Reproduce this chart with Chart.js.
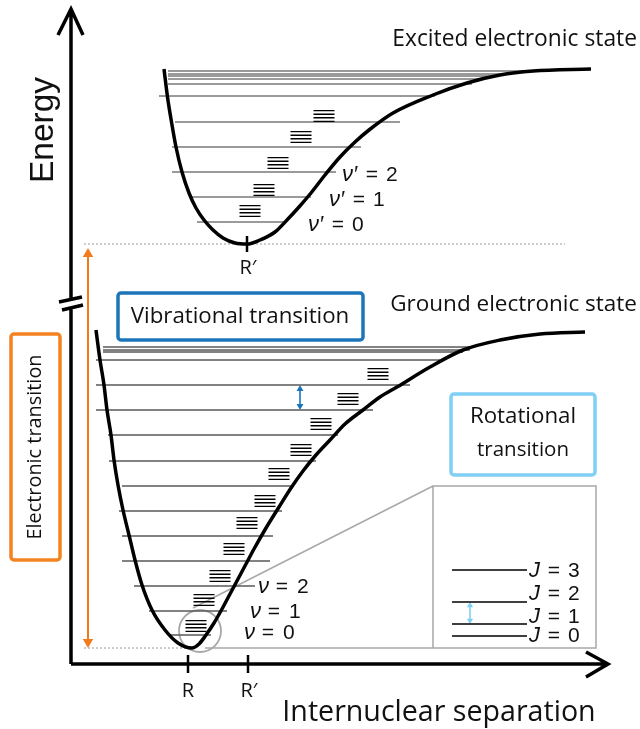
<!DOCTYPE html>
<html>
<head>
<meta charset="utf-8">
<script src="https://cdn.jsdelivr.net/npm/chart.js@4"></script>
<style>
html, body { margin: 0; padding: 0; background: #fff; }
canvas { display: block; }
</style>
</head>
<body>
<canvas id="chart" width="640" height="729"></canvas>
<script>
// x = internuclear separation, y = energy, both measured from where the axes meet

const excitedCurveX = [93, 96.5, 100.5, 105, 111, 118, 125, 133, 142, 152, 164, 176, 189, 204, 216, 228, 240, 254, 269, 284, 298, 322, 362, 396, 429, 462, 520];
const excitedCurveE = [595, 567, 542, 517, 492, 471, 456, 444, 434, 426, 421, 420, 424, 432, 444, 457, 471, 489, 507, 522, 534, 551, 569, 581, 589, 593, 595];

const groundCurveX = [25, 29, 33, 36, 40, 43, 47, 52, 58, 64, 71, 81, 94, 107, 121, 128, 135, 143, 151, 159, 167, 175, 183, 195, 208, 220, 232, 245, 259, 274, 292, 309, 326, 359, 392, 429, 469, 514];
const groundCurveE = [334, 304, 279, 254, 229, 204, 179, 154, 129, 104, 79, 54, 34, 21, 16, 20, 29, 41, 55, 70, 85, 100, 115, 136, 157, 176, 193, 209, 224, 240, 254, 267, 277, 297, 314, 324, 330, 332];

const excitedLevels = [593, 590, 588, 585, 580, 568, 542, 517, 492, 467, 442];
const excitedLevelFrom = [97, 97, 97, 97, 97, 88, 104, 101, 101, 118, 126];
const excitedLevelTo = [456, 441, 426, 412, 401, 364, 329, 290, 265, 240, 216];

const groundLevels = [317, 314, 312, 304, 279, 254, 229, 203, 178, 153, 128, 103, 78, 53, 29];
const groundLevelFrom = [32, 32, 32, 25, 25, 25, 37, 38, 51, 48, 51, 51, 63, 78, 97];
const groundLevelTo = [404, 399, 392, 369, 339, 302, 267, 245, 220, 211, 202, 199, 184, 156, 140];

// rotational sub-levels drawn as little stacks on each vibrational level
const excitedStackX = [253, 230, 207, 193, 179];
const excitedStackE = [548, 527, 501, 474, 453];
const groundStackX = [307, 277, 250, 230, 208, 194, 176, 163, 149, 133, 125];
const groundStackE = [290, 265, 240, 214, 190, 163, 141, 115, 88, 64, 38];

const rotLevels = [94, 62, 40, 28];
const rotLabels = ["3", "2", "1", "0"];
const rotLabelE = [93, 70, 47, 28];
const rotFrom = 381;
const rotTo = 456;

const excitedVibLabels = ["2", "1", "0"];
const excitedVibLabelX = [271, 258, 237];
const excitedVibLabelE = [489, 464, 439];
const groundVibLabels = ["2", "1", "0"];
const groundVibLabelX = [187, 179, 173];
const groundVibLabelE = [77, 52, 31];

const STACK_HALF = 10.5;
const STACK_OFFSETS = [-5.4, -1.8, 1.8, 5.4];

function pairs(xs, es) {
    return xs.map((x, i) => ({ x: x, y: es[i] }));
}

function levelSegments(levels, from, to) {
    const pts = [];
    levels.forEach((e, i) => {
        pts.push({ x: from[i], y: e }, { x: to[i], y: e }, { x: to[i], y: null });
    });
    return pts;
}

function stackSegments(xs, es) {
    const pts = [];
    xs.forEach((x, i) => {
        STACK_OFFSETS.forEach(d => {
            pts.push(
                { x: x - STACK_HALF, y: es[i] + d },
                { x: x + STACK_HALF, y: es[i] + d },
                { x: x, y: null }
            );
        });
    });
    return pts;
}

function lineSet(data, color, width, extra) {
    return Object.assign({
        data: data,
        showLine: true,
        borderColor: color,
        borderWidth: width,
        pointRadius: 0,
        fill: false
    }, extra || {});
}

const gap = { x: 0, y: null };

const datasets = [
    lineSet(pairs(excitedCurveX, excitedCurveE), "#000", 3.5, { cubicInterpolationMode: "monotone" }),
    lineSet(pairs(groundCurveX, groundCurveE), "#000", 3.5, { cubicInterpolationMode: "monotone" }),

    // axes, broken energy axis and open arrow heads
    lineSet([
        { x: 0, y: 0 }, { x: 0, y: 356 }, gap,
        { x: 0, y: 365 }, { x: 0, y: 655 }, gap,
        { x: -13, y: 629 }, { x: 0, y: 655 }, { x: 12, y: 629 }, gap,
        { x: 0, y: 0 }, { x: 537, y: 0 }, gap,
        { x: 515, y: 12 }, { x: 537, y: 0 }, { x: 515, y: -13 }, gap,
        { x: -12, y: 362 }, { x: 11, y: 367 }, gap,
        { x: -9, y: 354 }, { x: 12, y: 359 }
    ], "#000", 3.5, { borderCapStyle: "butt", borderJoinStyle: "miter" }),

    // equilibrium separation ticks
    lineSet([
        { x: 117, y: 9 }, { x: 117, y: -9 }, gap,
        { x: 177, y: 9 }, { x: 177, y: -9 }, gap,
        { x: 176, y: 428 }, { x: 176, y: 412 }
    ], "#000", 2.5),

    lineSet(stackSegments(excitedStackX, excitedStackE), "#000", 1.4),
    lineSet(stackSegments(groundStackX, groundStackE), "#000", 1.4),

    lineSet(levelSegments(excitedLevels, excitedLevelFrom, excitedLevelTo), "#7a7a7a", 1.4),
    lineSet(levelSegments(groundLevels, groundLevelFrom, groundLevelTo), "#5a5a5a", 1.4),

    // minimum energy guides
    lineSet([
        { x: 13, y: 420 }, { x: 494, y: 420 }, gap,
        { x: 13, y: 16 }, { x: 119, y: 16 }
    ], "#9a9a9a", 1, { borderDash: [2, 2] }),

    // magnified view of the lowest rotational levels
    lineSet([
        { x: 134, y: 16 }, { x: 525, y: 16 }, { x: 525, y: 178 }, { x: 362, y: 178 }, { x: 362, y: 16 }, gap,
        { x: 122, y: 56 }, { x: 362, y: 178 }
    ], "#a8a8a8", 1.5),
    {
        data: [{ x: 129, y: 33 }],
        showLine: false,
        pointRadius: 21,
        pointBorderColor: "#a8a8a8",
        pointBorderWidth: 1.8,
        pointBackgroundColor: "rgba(0,0,0,0)"
    },
    lineSet(rotLevels.flatMap(e => [{ x: rotFrom, y: e }, { x: rotTo, y: e }, { x: rotTo, y: null }]), "#000", 1.6),

    // transition arrows
    lineSet([{ x: 17, y: 22 }, { x: 17, y: 410 }], "#f27c1c", 2),
    {
        data: [{ x: 17, y: 410 }, { x: 17, y: 22 }],
        showLine: false,
        pointStyle: "triangle",
        pointRadius: 6,
        pointRotation: [0, 180],
        pointBackgroundColor: "#f27c1c",
        pointBorderWidth: 0
    },
    lineSet([{ x: 229, y: 257 }, { x: 229, y: 276 }], "#1b75bb", 1.6),
    {
        data: [{ x: 229, y: 275 }, { x: 229, y: 258 }],
        showLine: false,
        pointStyle: "triangle",
        pointRadius: 4,
        pointRotation: [0, 180],
        pointBackgroundColor: "#1b75bb",
        pointBorderWidth: 0
    },
    lineSet([{ x: 399, y: 43 }, { x: 399, y: 59 }], "#7fcff5", 1.6),
    {
        data: [{ x: 399, y: 58.5 }, { x: 399, y: 43.5 }],
        showLine: false,
        pointStyle: "triangle",
        pointRadius: 3.6,
        pointRotation: [0, 180],
        pointBackgroundColor: "#7fcff5",
        pointBorderWidth: 0
    }
];

const FONT = "'Open Sans', 'DejaVu Sans', sans-serif";
const EQ_FONT = "'Liberation Sans', 'DejaVu Sans', sans-serif";

const labelsPlugin = {
    id: "labels",
    beforeDraw(chart) {
        const ctx = chart.ctx;
        ctx.save();
        ctx.fillStyle = "#fff";
        ctx.fillRect(0, 0, chart.width, chart.height);
        ctx.restore();
    },
    afterDatasetsDraw(chart) {
        const ctx = chart.ctx;
        const sx = v => chart.scales.x.getPixelForValue(v);
        const sy = v => chart.scales.y.getPixelForValue(v);

        // text scaled so that it spans the given width in pixels
        function text(t, x, y, opts) {
            ctx.save();
            const family = opts.family || FONT;
            ctx.font = "100px " + family;
            const size = opts.width ? 100 * opts.width / ctx.measureText(t).width : opts.size;
            ctx.font = size.toFixed(1) + "px " + family;
            ctx.fillStyle = "#111";
            ctx.textAlign = opts.align || "center";
            ctx.textBaseline = "middle";
            ctx.translate(sx(x), sy(y));
            if (opts.rotate) ctx.rotate(opts.rotate);
            ctx.fillText(t, 0, 0);
            ctx.restore();
        }

        // "symbol = n" with an italic symbol and wide spacing around "="
        function equation(sym, n, x, y, eqAt, numAt) {
            const px = sx(x), py = sy(y);
            ctx.save();
            ctx.fillStyle = "#111";
            ctx.textBaseline = "middle";
            ctx.textAlign = "left";
            ctx.font = "italic 22px " + EQ_FONT;
            ctx.fillText(sym, px, py);
            ctx.font = "21px " + EQ_FONT;
            ctx.textAlign = "center";
            ctx.fillText("=", px + eqAt, py);
            ctx.textAlign = "left";
            ctx.fillText(n, px + numAt, py);
            ctx.restore();
        }

        function box(x1, e1, x2, e2, color) {
            ctx.save();
            ctx.strokeStyle = color;
            ctx.lineWidth = 3.5;
            ctx.beginPath();
            ctx.roundRect(sx(x1), sy(e2), sx(x2) - sx(x1), sy(e1) - sy(e2), 3);
            ctx.stroke();
            ctx.restore();
        }

        box(47, 324, 292, 371, "#1b75bb");
        box(380, 189, 524, 270, "#80cff5");
        box(-60, 104, -11, 330, "#f58220");

        text("Vibrational transition", 169, 347, { width: 219 });
        text("Rotational", 452, 247, { width: 106 });
        text("transition", 452, 214, { width: 92 });
        text("Electronic transition", -36, 217, { width: 185, rotate: -Math.PI / 2 });

        text("Excited electronic state", 566, 624, { width: 245, align: "right" });
        text("Ground electronic state", 566, 359, { width: 247, align: "right" });
        text("Energy", -27, 534, { width: 106, family: "'Liberation Sans', sans-serif", rotate: -Math.PI / 2 });
        text("Internuclear separation", 368, -49, { width: 313 });

        text("R", 117, -27, { size: 20 });
        text("R\u2032", 178, -27, { size: 20 });
        text("R\u2032", 177, 396, { size: 20 });

        excitedVibLabels.forEach((n, i) =>
            equation("\u03BD\u2032", n, excitedVibLabelX[i], excitedVibLabelE[i], 30, 44));
        groundVibLabels.forEach((n, i) =>
            equation("\u03BD", n, groundVibLabelX[i], groundVibLabelE[i], 24, 39));
        rotLevels.forEach((e, i) =>
            equation("J", rotLabels[i], 458, rotLabelE[i], 25, 39));
    }
};

new Chart(document.getElementById("chart"), {
    type: "scatter",
    data: { datasets: datasets },
    options: {
        responsive: false,
        animation: false,
        devicePixelRatio: 1,
        layout: { padding: 0, autoPadding: false },
        plugins: {
            legend: { display: false },
            tooltip: { enabled: false }
        },
        scales: {
            x: { type: "linear", min: -71, max: 569, display: false },
            y: { type: "linear", min: -65, max: 664, display: false }
        }
    },
    plugins: [labelsPlugin]
});
</script>
</body>
</html>
